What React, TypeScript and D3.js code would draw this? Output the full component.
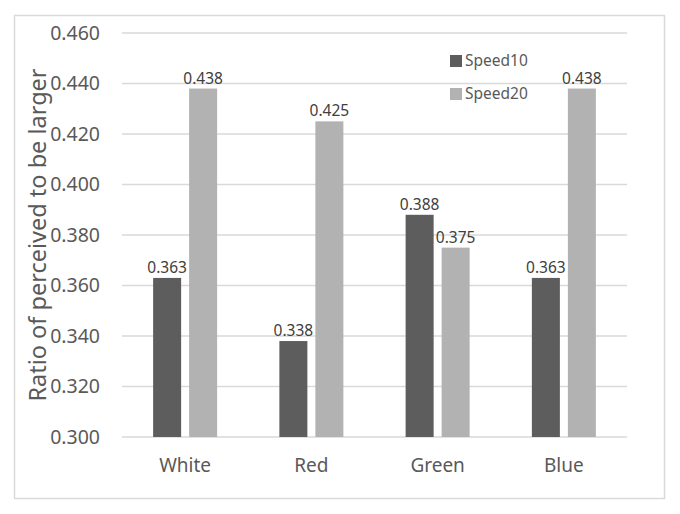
import { scaleBand, scaleLinear } from 'd3';

const categories = ['White', 'Red', 'Green', 'Blue'];
const seriesNames = ['Speed10', 'Speed20'];
const speed10 = [0.363, 0.338, 0.388, 0.363];
const speed20 = [0.438, 0.425, 0.375, 0.438];
const yTicks = [0.3, 0.32, 0.34, 0.36, 0.38, 0.4, 0.42, 0.44, 0.46];

const colors: Record<string, string> = { Speed10: '#5d5d5d', Speed20: '#b2b2b2' };
const font = "'Noto Sans', 'Open Sans', sans-serif";

export default function App() {
  const width = 680;
  const height = 514;
  const plot = { left: 122, right: 627, top: 33, bottom: 437 };

  const x0 = scaleBand<string>().domain(categories).range([plot.left, plot.right]).padding(0);
  const x1 = scaleBand<string>().domain(seriesNames).range([0, 64]).paddingInner(0.222);
  const y = scaleLinear().domain([0.3, 0.46]).range([plot.bottom, plot.top]);

  const values: Record<string, number[]> = { Speed10: speed10, Speed20: speed20 };

  return (
    <svg
      width={width}
      height={height}
      style={{ position: 'absolute', left: 0, top: 0, background: '#fff' }}
      fontFamily={font}
    >
      <rect x={14.5} y={15.5} width={650} height={483} fill="#fff" stroke="#d9d9d9" strokeWidth={1.5} />

      {yTicks.map((t) => (
        <g key={t}>
          <line x1={plot.left} x2={plot.right} y1={y(t)} y2={y(t)} stroke="#d9d9d9" strokeWidth={1.5} />
          <text x={100} y={y(t)} dy="0.35em" textAnchor="end" fontSize={19.5} fill="#595959">
            {t.toFixed(3)}
          </text>
        </g>
      ))}

      <text
        transform={`translate(38, ${(plot.top + plot.bottom) / 2}) rotate(-90)`}
        textAnchor="middle"
        dy="0.35em"
        fontSize={23.5}
        fill="#595959"
      >
        Ratio of perceived to be larger
      </text>

      {categories.map((c, i) => {
        const cx = (x0(c) ?? 0) + x0.bandwidth() / 2;
        return (
          <g key={c}>
            {seriesNames.map((s) => {
              const v = values[s][i];
              const bx = cx - 32 + (x1(s) ?? 0);
              return (
                <g key={s}>
                  <rect x={bx} y={y(v)} width={x1.bandwidth()} height={y(0.3) - y(v)} fill={colors[s]} />
                  <text
                    x={bx + x1.bandwidth() / 2}
                    y={y(v) - 5}
                    textAnchor="middle"
                    fontSize={15.5}
                    fill="#404040"
                  >
                    {v.toFixed(3)}
                  </text>
                </g>
              );
            })}
            <text x={cx} y={472} textAnchor="middle" fontSize={19} fill="#595959">
              {c}
            </text>
          </g>
        );
      })}

      {seriesNames.map((s, i) => (
        <g key={s} transform={`translate(450, ${61 + i * 33})`}>
          <rect x={0} y={-6} width={12} height={12} fill={colors[s]} />
          <text x={15} y={0} dy="0.35em" fontSize={15.5} fill="#595959">
            {s}
          </text>
        </g>
      ))}
    </svg>
  );
}
